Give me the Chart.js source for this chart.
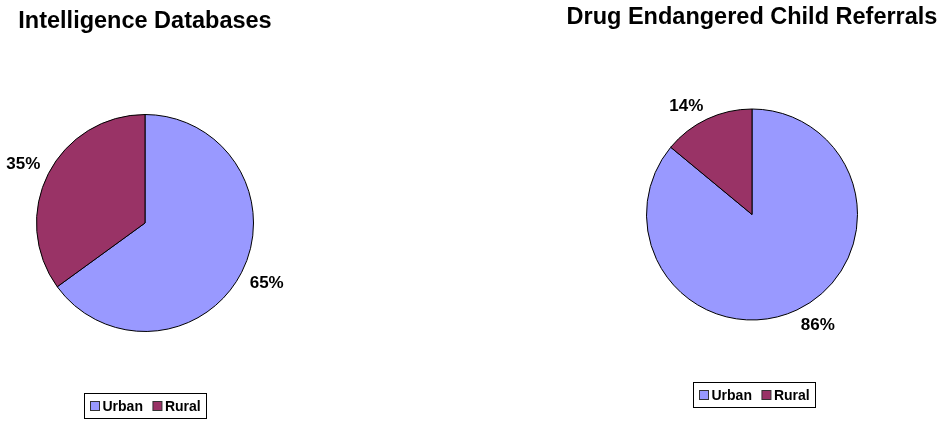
<!DOCTYPE html>
<html>
<head>
<meta charset="utf-8">
<script src="https://cdn.jsdelivr.net/npm/chart.js@4.4.1/dist/chart.umd.min.js"></script>
<style>
  html, body { margin: 0; padding: 0; background: #fff; }
  #wrap { position: relative; width: 939px; height: 421px; overflow: hidden; }
  canvas { position: absolute; top: 0; }
</style>
</head>
<body>
<div id="wrap">
  <canvas id="c1" width="470" height="421" style="left:0"></canvas>
  <canvas id="c2" width="469" height="421" style="left:470px"></canvas>
</div>
<script>
// ── Data ────────────────────────────────────────────────
const categories = ['Urban', 'Rural'];
const intelValues = [65, 35];
const decValues = [86, 14];
const titles = ['Intelligence Databases', 'Drug Endangered Child Referrals'];
const CLRS = ['#9999FF', '#993366'];
const FONT = 'Arial, "Liberation Sans", sans-serif';

// ── Title, outside % labels and boxed legend ────────────
const decor = {
  id: 'decor',
  afterDraw(chart, args, o) {
    const ctx = chart.ctx;
    const meta = chart.getDatasetMeta(0);
    const cx = meta.data[0].x;
    ctx.save();
    ctx.fillStyle = '#000';
    // title
    ctx.font = 'bold 23.5px ' + FONT;
    ctx.textAlign = 'center'; ctx.textBaseline = 'alphabetic';
    ctx.fillText(o.title, cx, o.titleY);
    // labels: nearest corner of text box sits on the mid-angle ray
    ctx.font = 'bold 17px ' + FONT;
    const vals = chart.data.datasets[0].data;
    meta.data.forEach((a, i) => {
      const mid = (a.startAngle + a.endAngle) / 2;
      const dx = Math.cos(mid), dy = Math.sin(mid);
      const t = vals[i] + '%';
      const w = ctx.measureText(t).width, h = 12;
      const px = a.x + (a.outerRadius + 9) * dx + Math.sign(dx) * w / 2;
      const py = a.y + (a.outerRadius + 9) * dy + Math.sign(dy) * h / 2;
      ctx.textBaseline = 'middle';
      ctx.fillText(t, px, py + 1);
    });
    // legend
    ctx.font = 'bold 14px ' + FONT;
    const sw = 9, gap = 3, pad = 6, sp = 10;
    const widths = chart.data.labels.map(l => ctx.measureText(l).width);
    const total = pad * 2 + widths.reduce((s, w) => s + sw + gap + w, 0) + sp * (widths.length - 1);
    const bh = 25, bx = Math.round(cx + o.legendDx - total / 2) + 0.5, by = o.legendY + 0.5;
    ctx.strokeStyle = '#000'; ctx.lineWidth = 1;
    ctx.strokeRect(bx, by, Math.round(total), bh);
    let x = bx + pad;
    ctx.textAlign = 'left'; ctx.textBaseline = 'middle';
    chart.data.labels.forEach((l, i) => {
      ctx.fillStyle = CLRS[i];
      ctx.fillRect(x, by + bh / 2 - sw / 2, sw, sw);
      ctx.strokeStyle = '#333';
      ctx.strokeRect(x, by + bh / 2 - sw / 2, sw, sw);
      ctx.fillStyle = '#000';
      ctx.fillText(l, x + sw + gap, by + bh / 2 + 1);
      x += sw + gap + widths[i] + sp;
    });
    ctx.restore();
  }
};

function mkPie(id, values, title, padding, deco) {
  return new Chart(document.getElementById(id), {
    type: 'pie',
    data: {
      labels: categories,
      datasets: [{ data: values, backgroundColor: CLRS, borderColor: '#000', borderWidth: 1 }]
    },
    options: {
      responsive: false, animation: false,
      layout: { padding },
      plugins: {
        legend: { display: false }, tooltip: { enabled: false },
        decor: Object.assign({ title }, deco)
      }
    },
    plugins: [decor]
  });
}

mkPie('c1', intelValues, titles[0], { left: 36, right: 216, top: 114, bottom: 89 },
  { titleY: 28, legendY: 393, legendDx: 0 });
mkPie('c2', decValues, titles[1], { left: 176, right: 81, top: 108, bottom: 100 },
  { titleY: 24, legendY: 382, legendDx: 2 });
</script>
</body>
</html>
